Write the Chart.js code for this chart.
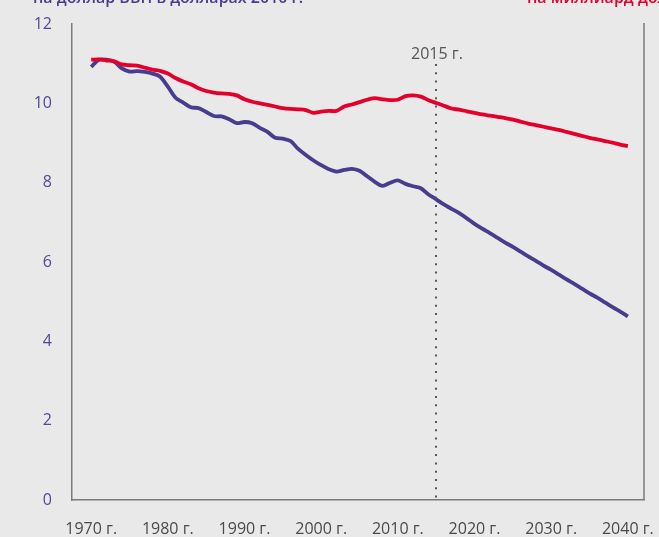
<!DOCTYPE html>
<html>
<head>
<meta charset="utf-8">
<script src="https://cdn.jsdelivr.net/npm/chart.js@4/dist/chart.umd.min.js"></script>
<style>
  html, body { margin: 0; padding: 0; background: #e9e9e9; }
  #wrap { width: 659px; height: 537px; }
</style>
</head>
<body>
<div id="wrap"><canvas id="chart" width="659" height="537"></canvas></div>
<script>
const years = []
for (let y = 1970; y <= 2040; y++) years.push(y)

const xTicks = [1970, 1980, 1990, 2000, 2010, 2020, 2030, 2040]
const yTicks = [0, 2, 4, 6, 8, 10, 12]

// per dollar of GDP (purple)
const perDollar = [
  10.92, 11.10, 11.10, 11.05, 10.88, 10.80, 10.81, 10.79, 10.75, 10.67,
  10.42, 10.14, 10.02, 9.90, 9.88, 9.78, 9.68, 9.67, 9.60, 9.50,
  9.53, 9.50, 9.38, 9.28, 9.13, 9.11, 9.05, 8.85, 8.70, 8.56,
  8.44, 8.34, 8.28, 8.32, 8.35, 8.30, 8.16, 8.02, 7.92, 8.00,
  8.06, 7.97, 7.91, 7.86, 7.70, 7.58, 7.45, 7.34, 7.23, 7.10,
  6.96, 6.84, 6.73, 6.61, 6.49, 6.38, 6.26, 6.14, 6.03, 5.91,
  5.80, 5.68, 5.56, 5.45, 5.33, 5.21, 5.10, 4.98, 4.86, 4.75,
  4.63
]

// per billion (red)
const perBillion = [
  11.10, 11.11, 11.08, 11.06, 10.98, 10.96, 10.95, 10.90, 10.85, 10.82,
  10.75, 10.64, 10.55, 10.48, 10.38, 10.31, 10.27, 10.25, 10.24, 10.20,
  10.10, 10.04, 10.00, 9.96, 9.92, 9.88, 9.86, 9.85, 9.83, 9.76,
  9.79, 9.81, 9.81, 9.92, 9.97, 10.03, 10.09, 10.13, 10.10, 10.08,
  10.09, 10.18, 10.20, 10.17, 10.08, 10.01, 9.94, 9.87, 9.84, 9.80,
  9.76, 9.72, 9.69, 9.66, 9.63, 9.59, 9.54, 9.49, 9.45, 9.41,
  9.37, 9.33, 9.28, 9.23, 9.18, 9.13, 9.09, 9.05, 9.01, 8.96,
  8.92
]

const markerYear = 2015
const markerLabel = "2015 г."
const leftTitle = "на доллар ВВП в долларах 2010 г."
const rightTitle = "на миллиард долларов ВВП"

const PURPLE = "#463d8e"
const RED = "#e4002b"
const FONT = "'Open Sans', sans-serif"

const toPoints = vals => years.map((y, i) => ({ x: y, y: vals[i] }))

const extras = {
  id: "extras",
  beforeDraw(chart) {
    const ctx = chart.ctx
    ctx.save()
    ctx.fillStyle = "#e9e9e9"
    ctx.fillRect(0, 0, chart.width, chart.height)
    ctx.restore()
  },
  afterDatasetsDraw(chart) {
    const { ctx, chartArea, scales } = chart
    ctx.save()
    // right frame line
    ctx.strokeStyle = "#7a7a7a"
    ctx.lineWidth = 1.5
    ctx.beginPath()
    ctx.moveTo(chartArea.right, chartArea.top - 1)
    ctx.lineTo(chartArea.right, chartArea.bottom)
    ctx.stroke()

    // 2015 dotted marker
    const mx = Math.round(scales.x.getPixelForValue(markerYear))
    ctx.strokeStyle = "#555"
    ctx.lineWidth = 2
    ctx.setLineDash([2, 6.3])
    ctx.beginPath()
    ctx.moveTo(mx, 64)
    ctx.lineTo(mx, chartArea.bottom)
    ctx.stroke()
    ctx.setLineDash([])
    ctx.fillStyle = "#555"
    ctx.font = "16px " + FONT
    ctx.textAlign = "center"
    ctx.textBaseline = "middle"
    ctx.fillText(markerLabel, mx + 1, 54)

    // cut-off titles at the top
    ctx.font = "600 16px " + FONT
    ctx.textAlign = "left"
    ctx.textBaseline = "alphabetic"
    ctx.fillStyle = PURPLE
    ctx.fillText(leftTitle, 33, 3)
    ctx.fillStyle = RED
    ctx.fillText(rightTitle, 527, 3)
    ctx.restore()
  }
}

new Chart(document.getElementById("chart"), {
  type: "line",
  data: {
    datasets: [
      {
        label: "на миллиард",
        data: toPoints(perBillion),
        borderColor: RED,
        borderWidth: 3.8,
        pointRadius: 0,
        tension: 0.3,
        fill: false
      },
      {
        label: "на доллар ВВП",
        data: toPoints(perDollar),
        borderColor: PURPLE,
        borderWidth: 3.8,
        pointRadius: 0,
        tension: 0.3,
        fill: false
      }
    ]
  },
  options: {
    responsive: false,
    animation: false,
    layout: { padding: { top: 24, right: 15, left: 0, bottom: 0 } },
    plugins: {
      legend: { display: false },
      tooltip: { enabled: false }
    },
    scales: {
      x: {
        type: "linear",
        min: 1967.5,
        max: 2042.1,
        afterBuildTicks: s => { s.ticks = xTicks.map(v => ({ value: v })) },
        afterFit: s => {
          s.height = 37
          s.paddingLeft = 0
          s.paddingRight = 0
        },
        grid: { display: false, drawTicks: false },
        border: { display: true, color: "#7a7a7a", width: 1.5 },
        ticks: {
          padding: 20,
          maxRotation: 0,
          autoSkip: false,
          color: "#4a4a4a",
          font: { family: FONT, size: 16 },
          callback: v => v + " г."
        }
      },
      y: {
        min: 0,
        max: 12,
        afterBuildTicks: s => { s.ticks = yTicks.map(v => ({ value: v })) },
        afterFit: s => {
          s.width = 72
          s.paddingTop = 0
          s.paddingBottom = 0
        },
        grid: { display: false, drawTicks: false },
        border: { display: true, color: "#7a7a7a", width: 1.5 },
        ticks: {
          padding: 20,
          color: "#4f4a96",
          font: { family: FONT, size: 16 }
        }
      }
    }
  },
  plugins: [extras]
})
</script>
</body>
</html>
